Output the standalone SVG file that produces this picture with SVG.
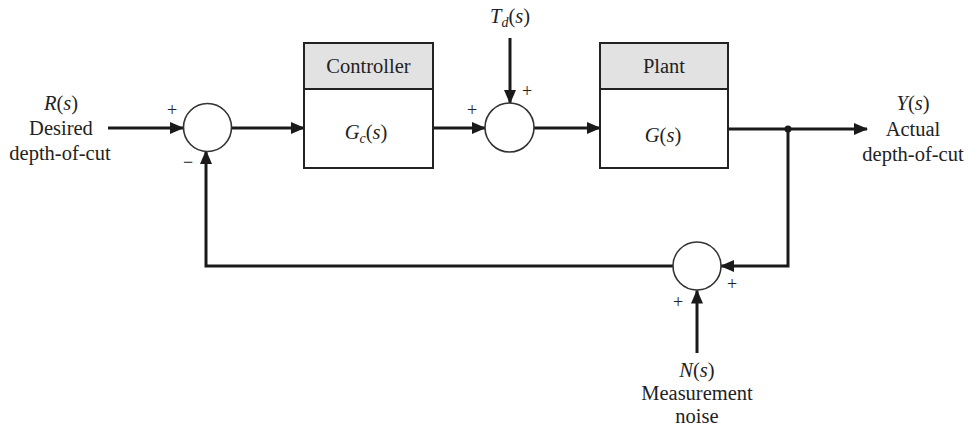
<svg xmlns="http://www.w3.org/2000/svg" width="979" height="433" viewBox="0 0 979 433" font-family="'Liberation Serif', 'DejaVu Serif', serif">
<defs>
<marker id="arr" markerUnits="userSpaceOnUse" markerWidth="14" markerHeight="12" refX="13" refY="6" orient="auto">
<path d="M0,0 L14,6 L0,12 z" fill="#1a1a1a"/>
</marker>
<style>
text{font-family:'Liberation Serif','DejaVu Serif',serif;font-size:20.5px;fill:#222;text-anchor:middle}
.it{font-style:italic}
.sub{font-size:14px;font-style:italic}
.pm{font-size:18px}
.box{fill:#fff;stroke:#222;stroke-width:2}
.hdr{fill:#e2e2e2;stroke:#222;stroke-width:2}
.sum{fill:#fff;stroke:#333;stroke-width:1.6}
.wire{fill:none;stroke:#1a1a1a;stroke-width:3;marker-end:url(#arr)}
</style>
</defs>
<rect width="979" height="433" fill="#fff"/>

<g id="connectors">
<line class="wire" x1="108" y1="128" x2="183" y2="128"/>
<line class="wire" x1="231" y1="128" x2="304" y2="128"/>
<line class="wire" x1="433" y1="128" x2="485" y2="128"/>
<line class="wire" x1="510" y1="38" x2="510" y2="103"/>
<line class="wire" x1="534" y1="128" x2="600" y2="128"/>
<line class="wire" x1="728" y1="129" x2="867" y2="129"/>
<circle cx="788" cy="129" r="3.5" fill="#1a1a1a"/>
<path class="wire" d="M788,129 V266 H721"/>
<line class="wire" x1="697" y1="353" x2="697" y2="290.5"/>
<path class="wire" d="M673,266 H206 V151"/>
</g>

<g id="input-R">
<text x="61" y="110"><tspan class="it">R</tspan>(<tspan class="it">s</tspan>)</text>
<text x="61" y="135">Desired</text>
<text x="60" y="160">depth-of-cut</text>
</g>

<g id="sum1">
<circle class="sum" cx="207.5" cy="127.5" r="24"/>
<text class="pm" x="172" y="116">+</text>
<text class="pm" x="188" y="168">−</text>
</g>

<g id="controller">
<rect class="box" x="304" y="43" width="129" height="125"/>
<rect class="hdr" x="304" y="43" width="129" height="46"/>
<text x="368.5" y="73">Controller</text>
<text x="366" y="139"><tspan class="it">G</tspan><tspan class="sub" dy="4">c</tspan><tspan dy="-4">(</tspan><tspan class="it">s</tspan>)</text>
</g>

<g id="disturbance-Td">
<text x="510" y="23"><tspan class="it">T</tspan><tspan class="sub" dy="4">d</tspan><tspan dy="-4">(</tspan><tspan class="it">s</tspan>)</text>
</g>

<g id="sum2">
<circle class="sum" cx="509.5" cy="127.5" r="24.5"/>
<text class="pm" x="527" y="97">+</text>
<text class="pm" x="472" y="116">+</text>
</g>

<g id="plant">
<rect class="box" x="600" y="43" width="128" height="125"/>
<rect class="hdr" x="600" y="43" width="128" height="46"/>
<text x="664" y="73">Plant</text>
<text x="663" y="142"><tspan class="it">G</tspan>(<tspan class="it">s</tspan>)</text>
</g>

<g id="output-Y">
<text x="913" y="110"><tspan class="it">Y</tspan>(<tspan class="it">s</tspan>)</text>
<text x="913" y="136">Actual</text>
<text x="913" y="161">depth-of-cut</text>
</g>

<g id="sum3">
<circle class="sum" cx="697" cy="266" r="24"/>
<text class="pm" x="732" y="290">+</text>
<text class="pm" x="678" y="308">+</text>
</g>

<g id="noise-N">
<text x="697" y="377"><tspan class="it">N</tspan>(<tspan class="it">s</tspan>)</text>
<text x="697" y="400">Measurement</text>
<text x="697" y="423">noise</text>
</g>
</svg>
